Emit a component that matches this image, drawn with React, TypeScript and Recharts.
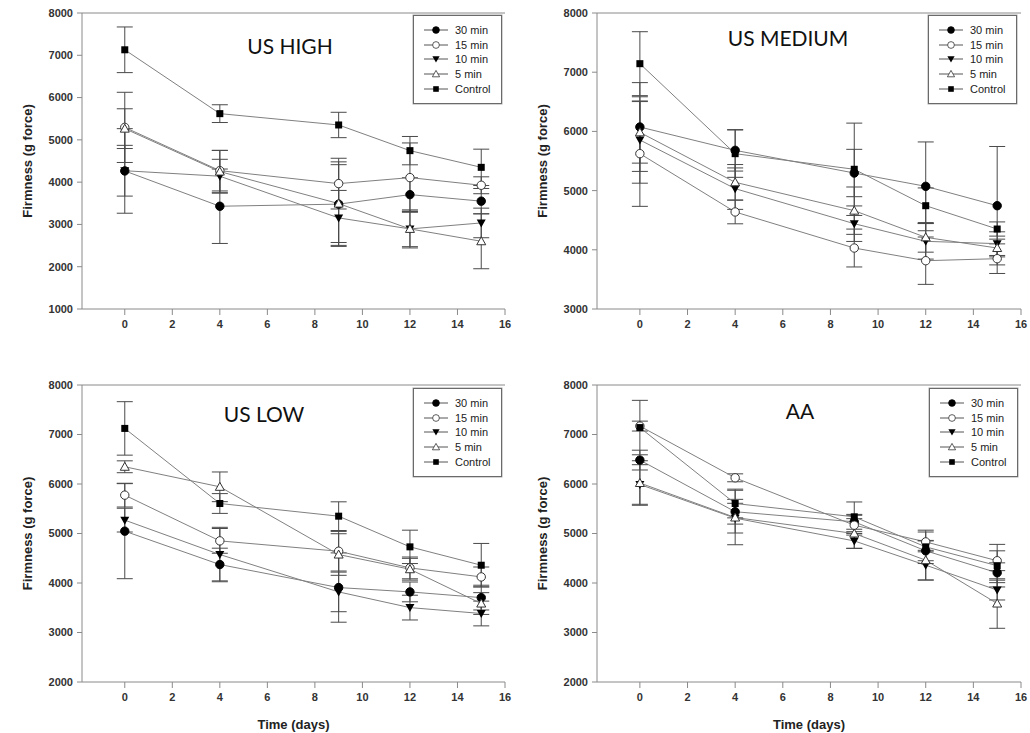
import React from 'react';
import { LineChart, Line, XAxis, YAxis, ErrorBar, ReferenceLine } from 'recharts';

const DAYS = [0, 4, 9, 12, 15];
const SERIES_NAMES = ['30 min', '15 min', '10 min', '5 min', 'Control'];
const SERIES_KEYS = ['m30', 'm15', 'm10', 'm5', 'ctrl'];
const X_TICKS = [0, 2, 4, 6, 8, 10, 12, 14, 16];

// US HIGH
const high30 = [4265, 3430, 3480, 3705, 3550];
const high30Err = [1000, 880, 1000, 400, 300];
const high15 = [5295, 4272, 3965, 4107, 3926];
const high15Err = [830, 480, 600, 820, 200];
const high10 = [4270, 4140, 3154, 2894, 3035];
const high10Err = [600, 400, 650, 450, 350];
const high5 = [5265, 4250, 3493, 2894, 2602];
const high5Err = [470, 500, 920, 420, 650];
const highCtrl = [7130, 5620, 5352, 4745, 4350];
const highCtrlErr = [540, 210, 300, 335, 430];

// US MEDIUM
const med30 = [6074, 5680, 5297, 5072, 4745];
const med30Err = [750, 350, 400, 750, 1000];
const med15 = [5624, 4639, 4030, 3816, 3850];
const med15Err = [890, 200, 320, 400, 250];
const med10 = [5855, 5033, 4441, 4143, 4104];
const med10Err = [730, 350, 300, 300, 200];
const med5 = [5984, 5140, 4661, 4210, 4030];
const med5Err = [520, 300, 400, 250, 150];
const medCtrl = [7144, 5624, 5360, 4745, 4351];
const medCtrlErr = [540, 400, 780, 300, 120];

// US LOW
const low30 = [5047, 4373, 3908, 3820, 3705];
const low30Err = [960, 330, 700, 200, 250];
const low15 = [5775, 4851, 4642, 4305, 4123];
const low15Err = [240, 250, 400, 220, 200];
const low10 = [5270, 4575, 3820, 3503, 3384];
const low10Err = [240, 550, 400, 250, 250];
const low5 = [6348, 5943, 4575, 4278, 3585];
const low5Err = [120, 300, 420, 220, 220];
const lowCtrl = [7123, 5606, 5350, 4730, 4359];
const lowCtrlErr = [540, 200, 290, 337, 440];

// AA
const aa30 = [6483, 5440, 5236, 4650, 4207];
const aa30Err = [200, 250, 150, 200, 200];
const aa15 = [7170, 6125, 5168, 4830, 4450];
const aa15Err = [100, 80, 200, 200, 200];
const aa10 = [5990, 5310, 4850, 4360, 3857];
const aa10Err = [400, 300, 150, 300, 200];
const aa5 = [6020, 5323, 5000, 4460, 3585];
const aa5Err = [450, 550, 300, 400, 500];
const aaCtrl = [7140, 5606, 5337, 4730, 4350];
const aaCtrlErr = [550, 290, 300, 337, 430];

function buildRows(vals: number[][], errs: number[][]) {
  return DAYS.map((d, i) => {
    const row: any = { day: d };
    SERIES_KEYS.forEach((k, s) => {
      row[k] = vals[s][i];
      row[k + 'E'] = errs[s][i];
    });
    return row;
  });
}

const FONT = 'Arial, "Liberation Sans", sans-serif';
const LINE_COLOR = '#808080';
const AXIS_COLOR = '#8a8a8a';

function Marker({ kind, cx, cy }: { kind: string; cx: number; cy: number }) {
  if (cx == null || cy == null) return null;
  switch (kind) {
    case 'm30':
      return <circle cx={cx} cy={cy} r={4.2} fill="#000" stroke="#000" />;
    case 'm15':
      return <circle cx={cx} cy={cy} r={4.2} fill="#fff" stroke="#333" strokeWidth={1} />;
    case 'm10':
      return <path d={`M${cx - 4.5},${cy - 3.5} L${cx + 4.5},${cy - 3.5} L${cx},${cy + 4.5} Z`} fill="#000" />;
    case 'm5':
      return <path d={`M${cx - 4.5},${cy + 3.5} L${cx + 4.5},${cy + 3.5} L${cx},${cy - 4.5} Z`} fill="#fff" stroke="#333" strokeWidth={1} />;
    default:
      return <rect x={cx - 3.5} y={cy - 3.5} width={7} height={7} fill="#000" />;
  }
}

function makeDot(kind: string) {
  return (p: any) => <Marker key={`${kind}-${p.index}`} kind={kind} cx={p.cx} cy={p.cy} />;
}

function LegendBox({ left, top }: { left: number; top: number }) {
  return (
    <div
      style={{
        position: 'absolute',
        left,
        top,
        width: 87,
        height: 87,
        border: '1px solid #6a6a6a',
        boxShadow: '0 0 0 0.5px #aaa',
        background: '#fff',
        fontFamily: FONT,
        fontSize: 11,
        color: '#222',
      }}
    >
      {SERIES_KEYS.map((k, i) => (
        <div key={k} style={{ position: 'absolute', left: 0, top: 7 + i * 14.7, height: 14, width: 87 }}>
          <svg width={36} height={14} style={{ position: 'absolute', left: 8, top: 0 }}>
            <line x1={2} y1={7} x2={26} y2={7} stroke="#555" strokeWidth={1} />
            <g transform="translate(14,7) scale(0.8) translate(-14,-7)">
              <Marker kind={k} cx={14} cy={7} />
            </g>
          </svg>
          <span style={{ position: 'absolute', left: 41, top: 0, lineHeight: '14px', whiteSpace: 'nowrap' }}>
            {SERIES_NAMES[i]}
          </span>
        </div>
      ))}
    </div>
  );
}

type PanelProps = {
  left: number;
  top: number;
  width: number;
  height: number;
  margin: { top: number; right: number; bottom: number; left: number };
  yDomain: [number, number];
  yTicks: number[];
  title: string;
  titleX: number;
  titleY: number;
  legendLeft: number;
  legendTop: number;
  xLabel: boolean;
  rows: any[];
};

function Panel(props: PanelProps) {
  const { left, top, width, height, margin, yDomain, yTicks, title, titleX, titleY, legendLeft, legendTop, xLabel, rows } = props;
  return (
    <>
      <div style={{ position: 'absolute', left, top, width, height }}>
        <LineChart width={width} height={height} data={rows} margin={margin}>
          <XAxis
            dataKey="day"
            type="number"
            domain={[-1.8, 16]}
            ticks={X_TICKS}
            allowDataOverflow
            stroke={AXIS_COLOR}
            tickSize={6}
            tickMargin={5}
            tick={{ fill: '#333', fontSize: 11, fontWeight: 'bold', fontFamily: FONT }}
            tickLine={{ stroke: AXIS_COLOR }}
            height={xLabel ? 50 : 30}
            label={
              xLabel
                ? { value: 'Time (days)', position: 'insideBottom', offset: 3, style: { fill: '#222', fontSize: 13, fontWeight: 'bold', fontFamily: FONT } }
                : undefined
            }
          />
          <YAxis
            type="number"
            domain={yDomain}
            ticks={yTicks}
            allowDataOverflow
            stroke={AXIS_COLOR}
            width={60}
            tickSize={5}
            tickMargin={4}
            tick={{ fill: '#333', fontSize: 11, fontWeight: 'bold', fontFamily: FONT }}
            tickLine={{ stroke: AXIS_COLOR }}
            label={{
              value: 'Firmness (g force)',
              angle: -90,
              position: 'insideLeft',
              offset: 5,
              style: { textAnchor: 'middle', fill: '#222', fontSize: 13, fontWeight: 'bold', fontFamily: FONT },
            }}
          />
          <ReferenceLine y={yDomain[1]} stroke={AXIS_COLOR} strokeWidth={1} />
          {SERIES_KEYS.map((k) => (
            <Line
              key={k}
              dataKey={k}
              type="linear"
              stroke={LINE_COLOR}
              strokeWidth={1}
              isAnimationActive={false}
              dot={makeDot(k)}
              activeDot={false}
            >
              <ErrorBar dataKey={k + 'E'} width={8} stroke="#4a4a4a" strokeWidth={1} direction="y" />
            </Line>
          ))}
        </LineChart>
      </div>
      <div
        style={{
          position: 'absolute',
          left: titleX,
          top: titleY,
          transform: 'translate(-50%, -50%)',
          fontFamily: 'Lato, "Open Sans", sans-serif',
          fontSize: 21,
          color: '#111',
          whiteSpace: 'nowrap',
        }}
      >
        {title}
      </div>
      <LegendBox left={legendLeft} top={legendTop} />
    </>
  );
}

const highRows = buildRows([high30, high15, high10, high5, highCtrl], [high30Err, high15Err, high10Err, high5Err, highCtrlErr]);
const medRows = buildRows([med30, med15, med10, med5, medCtrl], [med30Err, med15Err, med10Err, med5Err, medCtrlErr]);
const lowRows = buildRows([low30, low15, low10, low5, lowCtrl], [low30Err, low15Err, low10Err, low5Err, lowCtrlErr]);
const aaRows = buildRows([aa30, aa15, aa10, aa5, aaCtrl], [aa30Err, aa15Err, aa10Err, aa5Err, aaCtrlErr]);

export default function App() {
  return (
    <div style={{ position: 'absolute', left: 0, top: 0, width: 1030, height: 733, background: '#fff', overflow: 'hidden' }}>
      <Panel
        left={0} top={0} width={515} height={345}
        margin={{ top: 13, right: 10, bottom: 6, left: 22 }}
        yDomain={[1000, 8000]} yTicks={[1000, 2000, 3000, 4000, 5000, 6000, 7000, 8000]}
        title="US HIGH" titleX={290} titleY={45}
        legendLeft={413} legendTop={15}
        xLabel={false} rows={highRows}
      />
      <Panel
        left={515} top={0} width={515} height={345}
        margin={{ top: 13, right: 9, bottom: 6, left: 22 }}
        yDomain={[3000, 8000]} yTicks={[3000, 4000, 5000, 6000, 7000, 8000]}
        title="US MEDIUM" titleX={788} titleY={37}
        legendLeft={928} legendTop={15}
        xLabel={false} rows={medRows}
      />
      <Panel
        left={0} top={365} width={515} height={368}
        margin={{ top: 20, right: 10, bottom: 1, left: 22 }}
        yDomain={[2000, 8000]} yTicks={[2000, 3000, 4000, 5000, 6000, 7000, 8000]}
        title="US LOW" titleX={264} titleY={413}
        legendLeft={413} legendTop={388}
        xLabel={true} rows={lowRows}
      />
      <Panel
        left={515} top={365} width={515} height={368}
        margin={{ top: 20, right: 9, bottom: 1, left: 22 }}
        yDomain={[2000, 8000]} yTicks={[2000, 3000, 4000, 5000, 6000, 7000, 8000]}
        title="AA" titleX={800} titleY={410}
        legendLeft={929} legendTop={388}
        xLabel={true} rows={aaRows}
      />
    </div>
  );
}
